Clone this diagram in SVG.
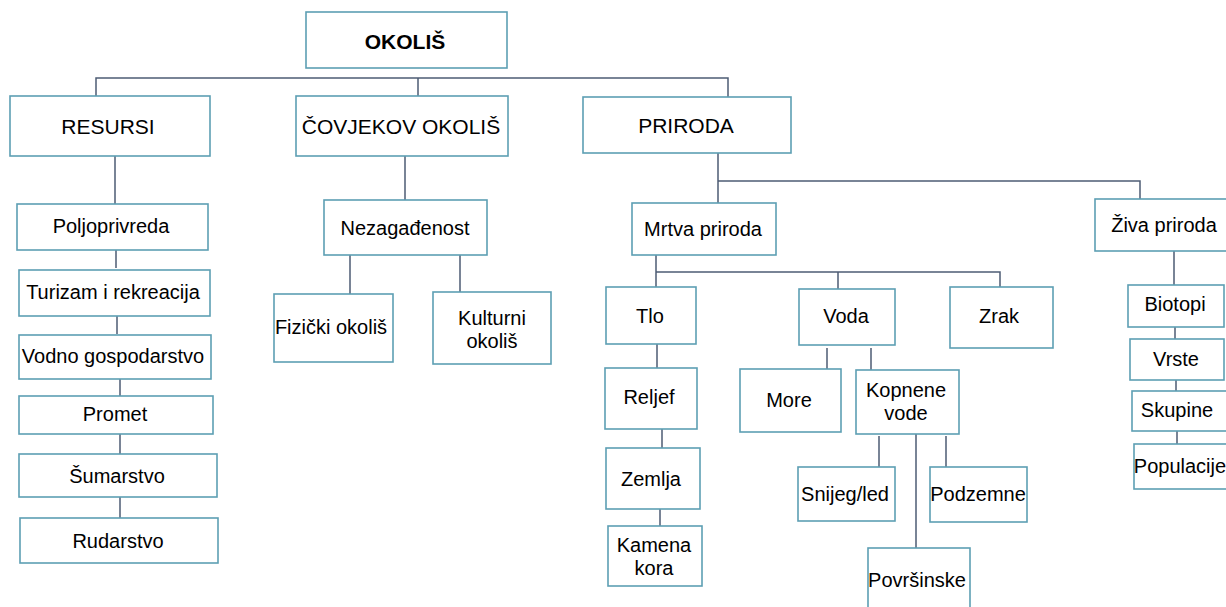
<svg xmlns="http://www.w3.org/2000/svg" width="1226" height="607" viewBox="0 0 1226 607">
<style>
rect{fill:#fff;stroke:#5d9fb3;stroke-width:1.6}
text{font-family:"Liberation Sans",Arial,sans-serif;font-size:20px;fill:#000;text-anchor:middle;dominant-baseline:central}
.cap{font-size:21px}
.b{font-weight:bold}
#connectors path{fill:none;stroke:#4d5c74;stroke-width:1.5}
</style>
<rect x="0" y="0" width="1226" height="607" style="fill:#fff;stroke:none"/>
<g id="connectors">
<path d="M96 96V78H728V97M418 78V96"/>
<path d="M115 156V204M116 250V268M117 316V334M120 379V396M120 434V454M120 497V518"/>
<path d="M405 156V200M350 255V294M460 255V292"/>
<path d="M718 153V203M718 181H1140V199"/>
<path d="M656 255V287M656 272H1000V287M838 272V289"/>
<path d="M657 344V368M662 429V448M660 509V526"/>
<path d="M827 348V369M871 348V370M879 436V467M946 436V467M916 434V548"/>
<path d="M1174 251V285M1175 327V339M1176 380V391M1177 431V444"/>
</g>
<g id="okolis"><rect x="306" y="12" width="201" height="56"/><text class="cap b" x="405" y="41">OKOLIŠ</text></g>
<g id="resursi"><rect x="10" y="96" width="200" height="60"/><text class="cap" x="108" y="126">RESURSI</text></g>
<g id="covjekov"><rect x="296" y="96" width="212" height="60"/><text class="cap" x="401" y="126">ČOVJEKOV OKOLIŠ</text></g>
<g id="priroda"><rect x="583" y="97" width="208" height="56"/><text class="cap" x="686" y="125">PRIRODA</text></g>
<g id="poljoprivreda"><rect x="17" y="204" width="191" height="46"/><text x="111" y="226">Poljoprivreda</text></g>
<g id="turizam"><rect x="19" y="270" width="191" height="46"/><text x="113" y="292">Turizam i rekreacija</text></g>
<g id="vodno"><rect x="19" y="335" width="192" height="44"/><text x="113" y="356">Vodno gospodarstvo</text></g>
<g id="promet"><rect x="19" y="396" width="194" height="38"/><text x="115" y="414">Promet</text></g>
<g id="sumarstvo"><rect x="19" y="454" width="198" height="43"/><text x="117" y="476">Šumarstvo</text></g>
<g id="rudarstvo"><rect x="20" y="518" width="198" height="45"/><text x="118" y="541">Rudarstvo</text></g>
<g id="nezagadenost"><rect x="324" y="200" width="163" height="55"/><text x="405" y="228">Nezagađenost</text></g>
<g id="fizicki"><rect x="274" y="294" width="119" height="68"/><text x="331" y="327">Fizički okoliš</text></g>
<g id="kulturni"><rect x="433" y="292" width="118" height="72"/><text x="492" y="318">Kulturni</text><text x="492" y="341">okoliš</text></g>
<g id="mrtva"><rect x="632" y="203" width="144" height="52"/><text x="703" y="229">Mrtva priroda</text></g>
<g id="ziva"><rect x="1095" y="199" width="135" height="52"/><text x="1164" y="225">Živa priroda</text></g>
<g id="tlo"><rect x="606" y="287" width="90" height="57"/><text x="650" y="316">Tlo</text></g>
<g id="voda"><rect x="799" y="289" width="96" height="56"/><text x="846" y="316">Voda</text></g>
<g id="zrak"><rect x="950" y="287" width="103" height="61"/><text x="999" y="316">Zrak</text></g>
<g id="reljef"><rect x="605" y="368" width="92" height="61"/><text x="649" y="397">Reljef</text></g>
<g id="zemlja"><rect x="606" y="448" width="94" height="61"/><text x="651" y="479">Zemlja</text></g>
<g id="kamena"><rect x="608" y="526" width="94" height="60"/><text x="654" y="545">Kamena</text><text x="654" y="568">kora</text></g>
<g id="more"><rect x="740" y="369" width="101" height="63"/><text x="789" y="400">More</text></g>
<g id="kopnene"><rect x="856" y="370" width="103" height="64"/><text x="906" y="390">Kopnene</text><text x="906" y="413">vode</text></g>
<g id="snijeg"><rect x="798" y="467" width="97" height="54"/><text x="845" y="494">Snijeg/led</text></g>
<g id="podzemne"><rect x="930" y="467" width="97" height="55"/><text x="978" y="494">Podzemne</text></g>
<g id="povrsinske"><rect x="868" y="548" width="102" height="65"/><text x="917" y="580">Površinske</text></g>
<g id="biotopi"><rect x="1128" y="285" width="96" height="42"/><text x="1175" y="304">Biotopi</text></g>
<g id="vrste"><rect x="1130" y="339" width="94" height="41"/><text x="1176" y="359">Vrste</text></g>
<g id="skupine"><rect x="1132" y="391" width="100" height="40"/><text x="1177" y="410">Skupine</text></g>
<g id="populacije"><rect x="1134" y="444" width="100" height="45"/><text x="1180" y="466">Populacije</text></g>
</svg>
